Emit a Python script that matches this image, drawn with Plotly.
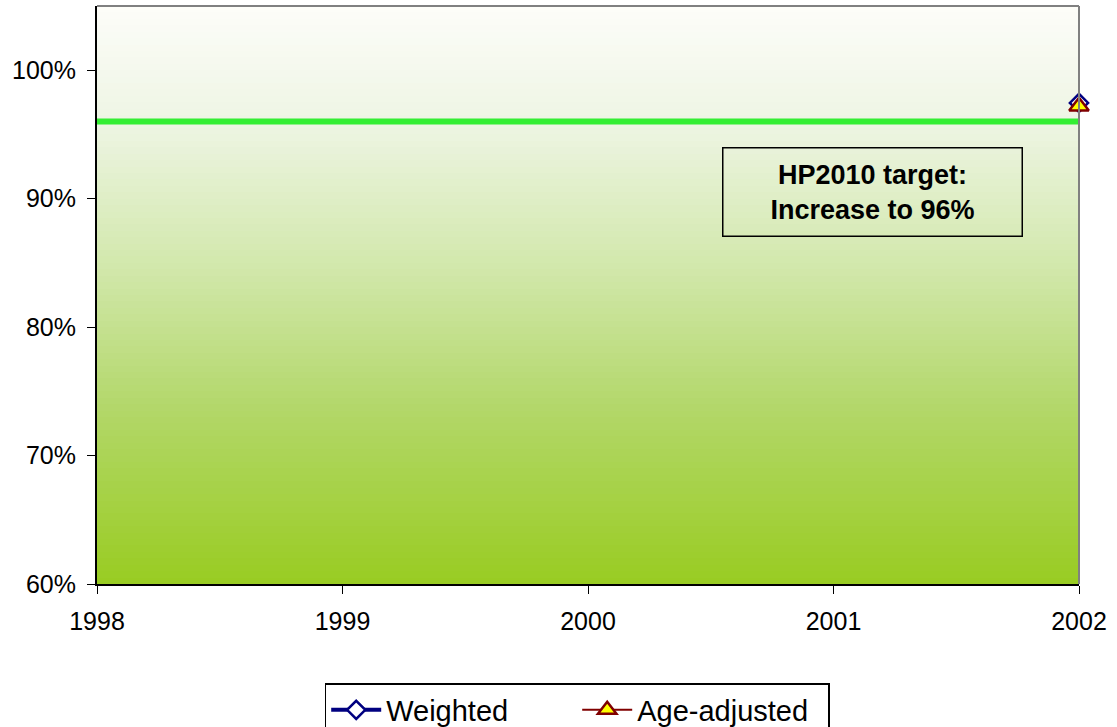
import plotly.graph_objects as go
import numpy as np

years = [1998, 1999, 2000, 2001, 2002]
weighted = [None, None, None, None, 0.9745]
age_adjusted = [None, None, None, None, 0.972]
target_years = [1998, 2002]
target_values = [0.96, 0.96]
y_ticks = [0.6, 0.7, 0.8, 0.9, 1.0]
y_tick_labels = ["60%", "70%", "80%", "90%", "100%"]

fig = go.Figure()

# gradient background (decoration)
edges = np.linspace(0.6, 1.05, 91)
mids = (edges[:-1] + edges[1:]) / 2
fig.add_trace(go.Heatmap(
    x=[1998, 2002], y=edges, z=[[v] for v in mids],
    zmin=0.6, zmax=1.05, showscale=False, hoverinfo="skip",
    colorscale=[[0.0, "#99cc22"], [0.3, "#b2d768"], [0.55, "#d2e8ac"],
                [0.8, "#eef5e4"], [1.0, "#fdfdf9"]],
    showlegend=False,
))

fig.add_trace(go.Scatter(
    x=target_years, y=target_values, mode="lines",
    line=dict(color="#33ee33", width=6), showlegend=False, hoverinfo="skip",
    cliponaxis=False,
))

fig.add_trace(go.Scatter(
    x=years, y=weighted, name="Weighted", mode="lines+markers",
    line=dict(color="#000080", width=4),
    marker=dict(symbol="diamond", size=14, color="white",
                line=dict(color="#000080", width=2.5)),
    cliponaxis=False,
))
fig.add_trace(go.Scatter(
    x=years, y=age_adjusted, name="Age-adjusted", mode="lines+markers",
    line=dict(color="#800000", width=2),
    marker=dict(symbol="triangle-up", size=17, color="#ffff00",
                line=dict(color="#800000", width=2.5)),
    cliponaxis=False,
))

fig.add_annotation(
    x=2001.157, y=0.905, xref="x", yref="y",
    text="<b>HP2010 target:<br>Increase to 96%</b>", showarrow=False,
    font=dict(family="Arial, Liberation Sans", size=27, color="black"),
    bordercolor="black", borderwidth=1.5, borderpad=11,
    width=276, align="center",
)

# top and right border in gray
fig.add_shape(type="line", xref="paper", yref="paper", x0=0, x1=1, y0=1, y1=1,
              line=dict(color="#808080", width=2))
fig.add_shape(type="line", xref="paper", yref="paper", x0=1, x1=1, y0=0, y1=1,
              line=dict(color="#808080", width=2))

fig.update_layout(
    width=1117, height=727,
    margin=dict(l=97, r=38, t=6, b=143, autoexpand=False),
    paper_bgcolor="white", plot_bgcolor="white",
    font=dict(family="Arial, Liberation Sans", color="black", size=25),
    legend=dict(
        orientation="h", x=0.489, xanchor="center",
        yref="container", y=44 / 727, yanchor="top",
        bordercolor="black", borderwidth=1.5, font=dict(size=29),
        itemwidth=50, traceorder="normal", entrywidth=186,
    ),
    showlegend=True,
)
fig.update_xaxes(
    range=[1998, 2002], tickvals=years, ticktext=[str(y) for y in years],
    showgrid=False, zeroline=False, showline=True, linecolor="black", linewidth=2,
    ticks="outside", ticklen=8, tickcolor="black", tickwidth=1,
    ticklabelstandoff=6, tickfont=dict(size=25), automargin=False,
)
fig.update_yaxes(
    range=[0.6, 1.05], tickvals=y_ticks, ticktext=y_tick_labels,
    showgrid=False, zeroline=False, showline=True, linecolor="black", linewidth=2,
    ticks="outside", ticklen=8, tickcolor="black", tickwidth=1,
    ticklabelstandoff=6, tickfont=dict(size=25), automargin=False,
)

fig.write_html("out.html", config={"displayModeBar": False},
               post_script="document.body.style.margin='0';")
